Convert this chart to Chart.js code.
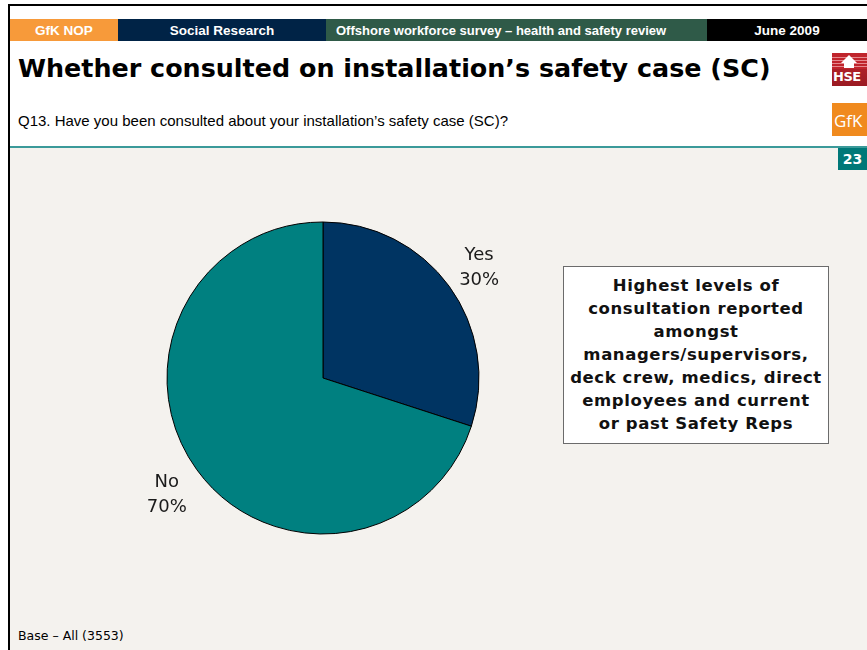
<!DOCTYPE html>
<html>
<head>
<meta charset="utf-8">
<script src="https://cdn.jsdelivr.net/npm/chart.js@4.4.0/dist/chart.umd.min.js"></script>
<style>
  html, body { margin: 0; padding: 0; }
  body { width: 867px; height: 650px; position: relative; overflow: hidden; background: #ffffff; font-family: "DejaVu Sans", sans-serif; }
  .abs { position: absolute; }
  #topline { left: 8px; top: 4px; width: 859px; height: 2px; background: #000; }
  #leftline { left: 8px; top: 4px; width: 2px; height: 646px; background: #000; }
  .hdr { top: 19px; height: 22px; color: #fff; font-size: 13.5px; font-weight: bold; line-height: 23px; white-space: nowrap; font-family: "Liberation Sans Narrow", "Liberation Sans", sans-serif; }
  #h1 { left: 10px; width: 108px; background: #f79a3a; text-align: center; }
  #h2 { left: 118px; width: 208px; background: #002346; text-align: center; }
  #h3 { left: 326px; width: 381px; background: #2f5a48; padding-left: 10px; box-sizing: border-box; font-size: 13px; }
  #h4 { left: 707px; width: 160px; background: #000; text-align: center; }
  #title { left: 18px; top: 53px; font-size: 25.4px; font-weight: bold; color: #000; white-space: nowrap; }
  #question { left: 18px; top: 112px; font-size: 15px; color: #000; white-space: nowrap; font-family: "Liberation Sans Narrow", "Liberation Sans", sans-serif; }
  #lower { left: 10px; top: 146px; width: 857px; height: 504px; background: #f4f2ee; }
  #rule { left: 10px; top: 146px; width: 857px; height: 2px; background: #3b9a9a; }
  #page { left: 838px; top: 148px; width: 29px; height: 22px; background: #007878; color: #fff; font-weight: bold; font-size: 14px; line-height: 22px; text-align: center; }
  #hse { left: 832px; top: 53px; width: 35px; height: 33px; background: linear-gradient(#c0242c, #9a1a22); overflow: hidden; }
  #hse em { position: absolute; left: 0; top: 2px; width: 35px; height: 14px; background: repeating-linear-gradient(#c0242c 0 2px, #e58a8f 2px 3px); }
  #hse span { position: absolute; left: 1px; top: 16px; color: #fff; font-weight: bold; font-size: 13px; letter-spacing: -0.5px; }
  #hse i { position: absolute; left: 9px; top: 2px; width: 0; height: 0; border-left: 8px solid transparent; border-right: 8px solid transparent; border-bottom: 8px solid #fff; }
  #hse b { position: absolute; left: 12px; top: 9px; width: 10px; height: 6px; background: #fff; }
  #gfk { left: 832px; top: 103px; width: 35px; height: 33px; background: #f08a1e; overflow: hidden; }
  #gfk span { position: absolute; left: 2px; top: 6px; color: #fff; font-size: 17px; font-family: "Open Sans", sans-serif; }
  #note { left: 563px; top: 266px; width: 264px; height: 169px; background: #fff; border: 1px solid #6b6b6b; text-align: center; font-weight: bold; font-size: 16.5px; letter-spacing: 0.6px; line-height: 23px; padding-top: 7px; box-sizing: content-box; color: #111; white-space: nowrap; }
  #base { left: 18px; top: 628px; font-size: 12.5px; color: #000; white-space: nowrap; }
  #pie { left: 123px; top: 178px; width: 400px; height: 400px; }
</style>
</head>
<body>
<div class="abs" id="lower"></div>
<div class="abs" id="topline"></div>
<div class="abs" id="leftline"></div>
<div class="abs hdr" id="h1">GfK NOP</div>
<div class="abs hdr" id="h2">Social Research</div>
<div class="abs hdr" id="h3">Offshore workforce survey – health and safety review</div>
<div class="abs hdr" id="h4">June 2009</div>
<div class="abs" id="title">Whether consulted on installation’s safety case (SC)</div>
<div class="abs" id="question">Q13. Have you been consulted about your installation’s safety case (SC)?</div>
<div class="abs" id="rule"></div>
<div class="abs" id="page">23</div>
<div class="abs" id="hse"><em></em><i></i><b></b><span>HSE</span></div>
<div class="abs" id="gfk"><span>GfK</span></div>
<div class="abs" id="note">Highest levels of<br>consultation reported<br>amongst<br>managers/supervisors,<br>deck crew, medics, direct<br>employees and current<br>or past Safety Reps</div>
<div class="abs" id="base">Base – All (3553)</div>
<div class="abs" id="pie"><canvas id="chart_area" width="400" height="400"></canvas></div>

<script>
var categories = ['Yes', 'No'];
var shares = [30, 70];
var sliceColours = ['#003462', '#008080'];

// writes "label / nn%" just outside each slice
var outsideLabels = {
    id: 'outsideLabels',
    afterDatasetsDraw: function (chart) {
        var ctx = chart.ctx;
        var meta = chart.getDatasetMeta(0);
        ctx.save();
        ctx.font = '18px "DejaVu Sans", sans-serif';
        ctx.fillStyle = '#1a1a1a';
        ctx.textAlign = 'center';
        ctx.textBaseline = 'middle';
        meta.data.forEach(function (arc, i) {
            var p = arc.getProps(['x', 'y', 'startAngle', 'endAngle', 'outerRadius'], true);
            var mid = (p.startAngle + p.endAngle) / 2;
            var r = p.outerRadius + 37;
            var x = p.x + Math.cos(mid) * r;
            var y = p.y + Math.sin(mid) * r;
            ctx.fillText(categories[i], x, y - 9);
            ctx.fillText(shares[i] + '%', x, y + 16);
        });
        ctx.restore();
    }
};

new Chart(document.getElementById('chart_area'), {
    type: 'pie',
    data: {
        labels: categories,
        datasets: [{
            data: shares,
            backgroundColor: sliceColours,
            borderColor: '#000',
            borderWidth: 1
        }]
    },
    options: {
        responsive: false,
        animation: false,
        radius: 156,
        plugins: {
            legend: { display: false },
            tooltip: { enabled: false }
        }
    },
    plugins: [outsideLabels]
});
</script>
</body>
</html>
